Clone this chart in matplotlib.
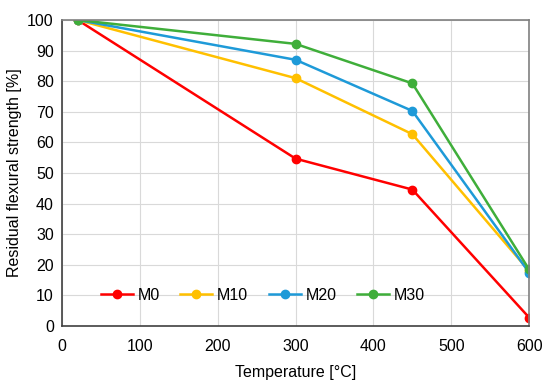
import matplotlib
matplotlib.use("Agg")
import matplotlib.pyplot as plt

temps = [20, 300, 450, 600]
m0 = [100, 54.7, 44.6, 2.8]
m10 = [100, 81.0, 62.7, 18.0]
m20 = [100, 87.0, 70.3, 17.5]
m30 = [100, 92.2, 79.3, 18.5]
names = ["M0", "M10", "M20", "M30"]
colors = ["#FF0000", "#FFC000", "#1E9AD8", "#3FAE3A"]

plt.rcParams['font.family'] = ['Liberation Sans', 'DejaVu Sans']

fig = plt.figure(figsize=(5.5, 3.85), dpi=100)
ax = fig.add_axes([0.113, 0.153, 0.849, 0.795])

for vals, name, c in zip([m0, m10, m20, m30], names, colors):
    ax.plot(temps, vals, color=c, lw=1.8, marker='o', ms=6, label=name)

ax.set_xlim(0, 600)
ax.set_ylim(0, 100)
ax.set_xticks(range(0, 601, 100))
ax.set_yticks(range(0, 101, 10))
ax.grid(color='#D9D9D9', lw=0.8)
ax.set_axisbelow(True)
ax.tick_params(length=0, labelsize=11.5)
ax.tick_params(axis='x', pad=9)
ax.tick_params(axis='y', pad=6)
for s in ['left', 'bottom']:
    ax.spines[s].set_color('#404040')
    ax.spines[s].set_linewidth(1.2)
for s in ['top', 'right']:
    ax.spines[s].set_color('#808080')
    ax.spines[s].set_linewidth(1.2)

ax.set_xlabel('Temperature [°C]', fontsize=11.5, labelpad=8)
ax.set_ylabel('Residual flexural strength [%]', fontsize=11.5, labelpad=4)

ax.legend(loc='center', bbox_to_anchor=(0.43, 0.1), ncol=4, frameon=False,
          fontsize=11.5, handlelength=2.0, columnspacing=1.3, handletextpad=0.3)

fig.savefig('out.png', dpi=100)
